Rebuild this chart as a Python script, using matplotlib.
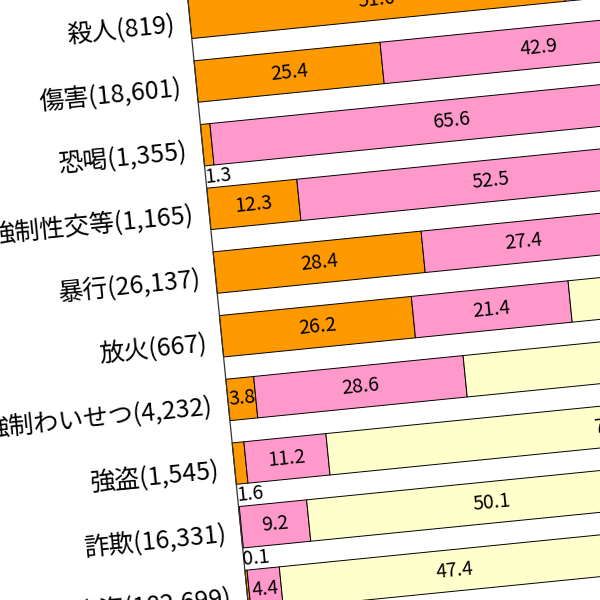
import numpy as np
import matplotlib
matplotlib.use('Agg')
import matplotlib.pyplot as plt
from matplotlib.transforms import Affine2D

plt.rcParams['font.family'] = ['Noto Sans CJK JP', 'DejaVu Sans']

categories = ['殺人', '傷害', '恐喝', '強制性交等', '暴行', '放火', '強制わいせつ', '強盗', '詐欺', '窃盗']
counts = ['819', '18,601', '1,355', '1,165', '26,137', '667', '4,232', '1,545', '16,331', '182,699']
relatives = [51.0, 25.4, 1.3, 12.3, 28.4, 26.2, 3.8, 1.6, 0.1, 0.3]
acquaint = [36.0, 42.9, 65.6, 52.5, 27.4, 21.4, 28.6, 11.2, 9.2, 4.4]
stranger = [10.0, 30.0, 30.0, 33.0, 40.0, 50.0, 65.0, 77.9, 50.1, 47.4]

series = [relatives, acquaint, stranger]
colors = ['#FF9900', '#FF99CC', '#FFFFCC']

ANGLE = 5.7
PX_PER_PCT = 7.36
X0 = 218.3
Y0 = 8.3
STEP = 64.0

fig = plt.figure(figsize=(6, 6), dpi=100)
ax = fig.add_axes([0, 0, 1, 1])
ax.set_axis_off()
ax.set_xlim(-X0 / PX_PER_PCT, (600 - X0) / PX_PER_PCT)
ax.set_ylim((600 - Y0) / STEP, -Y0 / STEP)

tr = ax.transData + Affine2D().rotate_deg_around(300, 300, ANGLE)

y = np.arange(len(categories))
left = np.zeros(len(categories))
for vals, col in zip(series, colors):
    vals = np.array(vals, dtype=float)
    ax.barh(y, vals, left=left, height=0.65, color=col, edgecolor='black',
            linewidth=0.7, transform=tr, clip_on=False)
    for i, (v, l) in enumerate(zip(vals, left)):
        if v >= 2:
            ax.text(l + v / 2, i, f'{v:.1f}', ha='center', va='center', fontsize=14,
                    rotation=ANGLE, rotation_mode='anchor', transform=tr)
        else:
            ax.text(-0.15, i + 0.5, f'{v:.1f}', ha='left', va='center', fontsize=14,
                    rotation=ANGLE, rotation_mode='anchor', transform=tr)
    left = left + vals

ax.plot([0, 0], [-1.5, 11], color='#333333', linewidth=0.9, transform=tr, clip_on=False)

for i, (c, n) in enumerate(zip(categories, counts)):
    ax.text(-2.1, i + 0.09, f'{c}({n})', ha='right', va='center', fontsize=18,
            rotation=ANGLE, rotation_mode='anchor', transform=tr)

fig.savefig('out.png', dpi=100)
